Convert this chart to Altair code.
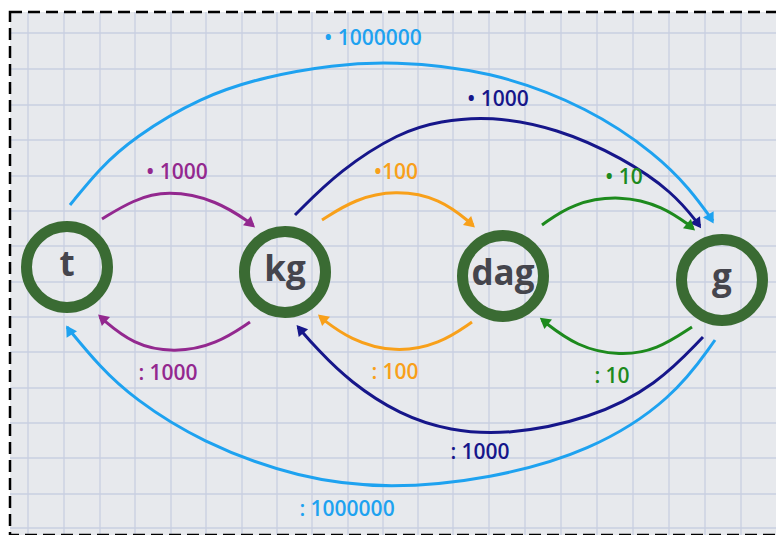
import altair as alt
import pandas as pd

# ---------------- data (image pixel coordinates) ----------------
node_names = ["t", "kg", "dag", "g"]
node_x = [67, 285, 503, 722]
node_y = [267, 272, 276, 280]

grid_x = [28, 64, 100, 135, 171, 206, 242, 277, 312, 348, 383, 418, 453, 489,
          525, 561, 597, 633, 669, 705, 741, 777]
grid_y = [33, 69, 105, 140, 176, 211, 246, 282, 317, 352, 388, 423, 458, 494, 528]

# arcs above the nodes (multiply)
lb_top_x = [70, 100, 133, 200, 267, 333, 390, 490, 590, 657, 690, 713]
lb_top_y = [205, 168, 138, 97, 76, 65, 61, 70, 108, 155, 189, 221]
navy_top_x = [295, 340, 400, 440, 490, 557, 623, 673, 700]
navy_top_y = [215, 170, 132, 121, 116, 128, 158, 192, 226]
purple_top_x = [102, 133, 167, 217, 253]
purple_top_y = [219, 200, 190, 200, 225]
orange_top_x = [322, 355, 395, 440, 473]
orange_top_y = [220, 199, 190, 198, 225]
green_top_x = [542, 573, 620, 663, 693]
green_top_y = [225, 203, 195, 206, 228]

# arcs below the nodes (divide)
purple_bot_x = [100, 133, 175, 217, 250]
purple_bot_y = [317, 345, 353, 344, 322]
orange_bot_x = [320, 350, 395, 440, 472]
orange_bot_y = [317, 340, 353, 344, 322]
green_bot_x = [542, 577, 620, 657, 692]
green_bot_y = [320, 347, 356, 350, 327]
navy_bot_x = [298, 317, 350, 400, 450, 507, 590, 657, 703]
navy_bot_y = [327, 349, 382, 415, 431, 435, 419, 385, 337]
lb_bot_x = [67, 100, 133, 200, 300, 390, 490, 590, 673, 715]
lb_bot_y = [327, 367, 398, 442, 479, 489, 479, 452, 399, 340]

LB, NAVY, PURPLE, ORANGE, GREEN = "#1ea2f0", "#16168a", "#93288f", "#f8a01a", "#1d8a1d"

arc_names = ["lb_top", "navy_top", "purple_top", "orange_top", "green_top",
             "purple_bot", "orange_bot", "green_bot", "navy_bot", "lb_bot"]
arc_colors = [LB, NAVY, PURPLE, ORANGE, GREEN, PURPLE, ORANGE, GREEN, NAVY, LB]
arc_x = [lb_top_x, navy_top_x, purple_top_x, orange_top_x, green_top_x,
         purple_bot_x, orange_bot_x, green_bot_x, navy_bot_x, lb_bot_x]
arc_y = [lb_top_y, navy_top_y, purple_top_y, orange_top_y, green_top_y,
         purple_bot_y, orange_bot_y, green_bot_y, navy_bot_y, lb_bot_y]

# arrow heads: tip position and direction (degrees clockwise from pointing right)
arrow_x = [711, 698, 251, 471, 691, 102, 322, 544, 300, 69]
arrow_y = [219, 224, 224, 224, 227, 318, 318, 321, 329, 330]
arrow_angle = [60, 55, 40, 42, 40, 222, 220, 218, 230, 238]
arrow_color = arc_colors

label_text = ["• 1000000", "• 1000", "• 1000", "•100", "• 10",
              ": 1000", ": 100", ": 10", ": 1000", ": 1000000"]
label_x = [373, 498, 177, 396, 624, 168, 395, 612, 480, 347]
label_y = [39, 100, 173, 173, 178, 374, 373, 377, 453, 510]
label_color = [LB, NAVY, PURPLE, ORANGE, GREEN, PURPLE, ORANGE, GREEN, NAVY, LB]

# ---------------- build tables ----------------
rows = []
for name, col, xs_, ys_ in zip(arc_names, arc_colors, arc_x, arc_y):
    for xv, yv in zip(xs_, ys_):
        rows.append({"arc": name, "color": col, "x": xv, "y": yv})
arcs_df = pd.DataFrame(rows)
nodes_df = pd.DataFrame({"name": node_names, "x": node_x, "y": node_y})
arrows_df = pd.DataFrame({"x": arrow_x, "y": arrow_y, "angle": arrow_angle, "color": arrow_color})
labels_df = pd.DataFrame({"text": label_text, "x": label_x, "y": label_y, "color": label_color})
gx_df = pd.DataFrame({"gx": grid_x})
gy_df = pd.DataFrame({"gy": grid_y})

W, H = 766, 523
xsc = alt.Scale(domain=[10, 776], nice=False, zero=False)
ysc = alt.Scale(domain=[12, 535], reverse=True, nice=False, zero=False)


def X(f):
    return alt.X(f, type="quantitative", scale=xsc, axis=None)


def Y(f):
    return alt.Y(f, type="quantitative", scale=ysc, axis=None)


grid_v = alt.Chart(gx_df).mark_rule(color="#c8cfe1", strokeWidth=1.3).encode(x=X("gx"))
grid_h = alt.Chart(gy_df).mark_rule(color="#c8cfe1", strokeWidth=1.3).encode(y=Y("gy"))

lines = alt.Chart(arcs_df).mark_line(strokeWidth=3, interpolate="basis").encode(
    x=X("x"), y=Y("y"),
    color=alt.Color("color:N", scale=None),
    detail="arc:N",
    order=alt.Order("x:Q"),
)

arrows = alt.Chart(arrows_df).mark_point(shape="triangle-right", filled=True, size=150, opacity=1).encode(
    x=X("x"), y=Y("y"),
    angle=alt.Angle("angle:Q", scale=None),
    color=alt.Color("color:N", scale=None),
)

rings = alt.Chart(nodes_df).mark_point(
    shape="circle", filled=False, size=6561, strokeWidth=11, color="#3a6b33", opacity=1
).encode(x=X("x"), y=Y("y"))

node_text = alt.Chart(nodes_df).mark_text(
    font="Open Sans", fontSize=35, fontWeight="bold", color="#45454d",
    baseline="middle", align="center", dy=-2
).encode(x=X("x"), y=Y("y"), text="name:N")

arc_text = alt.Chart(labels_df).mark_text(
    font="Open Sans", fontSize=21, fontWeight=600, baseline="middle", align="center"
).encode(x=X("x"), y=Y("y"), text="text:N", color=alt.Color("color:N", scale=None))

border = alt.Chart(pd.DataFrame({"a": [0]})).mark_rect(
    fillOpacity=0, stroke="black", strokeWidth=2.5, strokeDash=[12, 6]
).encode(x=alt.value(0), x2=alt.value(W + 30), y=alt.value(0), y2=alt.value(H))

chart = alt.layer(grid_v, grid_h, lines, arrows, rings, node_text, arc_text, border).properties(
    width=W, height=H,
    padding={"left": 2, "top": 4, "right": 0, "bottom": 0},
    autosize=alt.AutoSizeParams(type="none"),
    background="white",
).configure_view(fill="#e7e9ed", stroke=None)

chart.save("out.html", embed_options={"renderer": "svg", "actions": False})
